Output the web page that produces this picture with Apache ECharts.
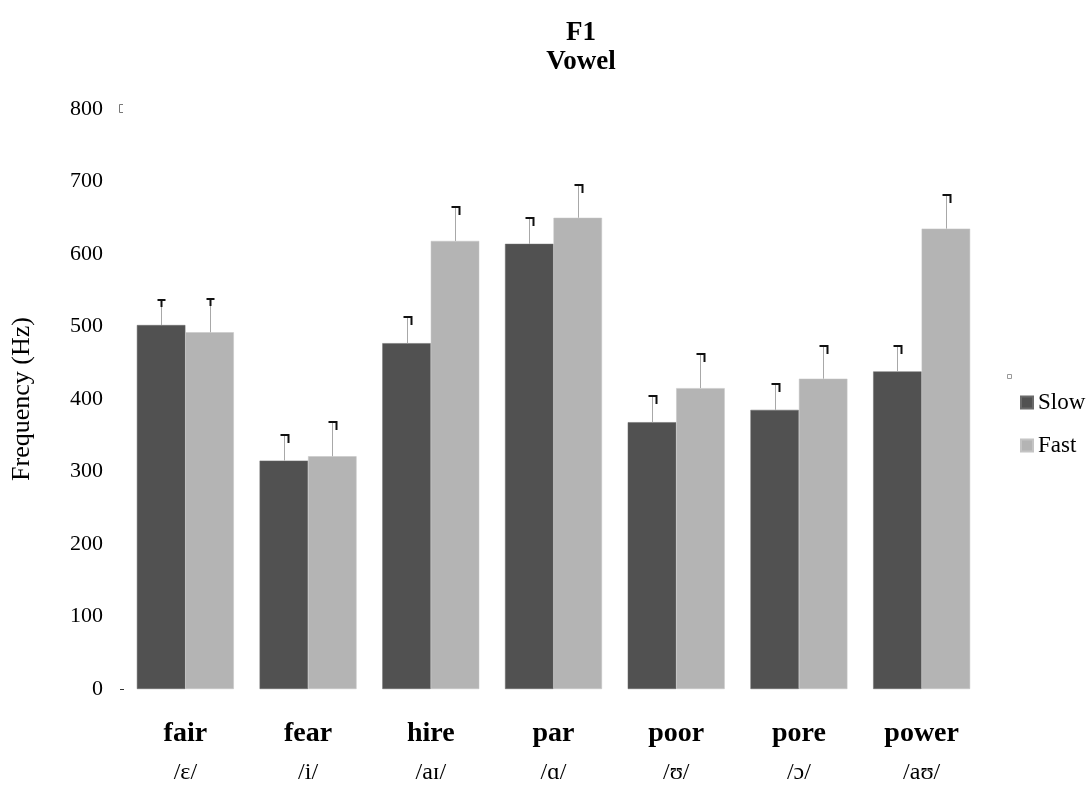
<!DOCTYPE html>
<html>
<head>
<meta charset="utf-8">
<script src="https://cdn.jsdelivr.net/npm/echarts@6/dist/echarts.min.js"></script>
<style>
  html, body { margin: 0; padding: 0; background: #fff; }
  #chart { width: 1087px; height: 787px; }
</style>
</head>
<body>
<div id="chart"></div>
<script>
// F1 of each vowel, slow vs fast speech rate
const words = ['fair', 'fear', 'hire', 'par', 'poor', 'pore', 'power'];
const vowels = ['/ɛ/', '/i/', '/aɪ/', '/ɑ/', '/ʊ/', '/ɔ/', '/aʊ/'];
const slowF1 = [502, 315, 477, 614, 368, 385, 438];
const slowErr = [36, 37, 37, 37, 37, 37, 37];
const fastF1 = [492, 321, 618, 650, 415, 428, 635];
const fastErr = [48, 48, 48, 46, 48, 47, 48];
const yTicks = [0, 800];

const SERIF = '"Liberation Serif", "DejaVu Serif", serif';
const SLOW_COLOR = '#515151';
const FAST_COLOR = '#b4b4b4';
const CAT_GAP = 0.21;

// Upper error whisker: thin grey stem with a black cap
function errorRenderer(values, errs, side) {
  return function (params, api) {
    const i = api.value(0);
    const v = values[i];
    const e = errs[i];
    const base = api.coord([i, v]);
    const top = api.coord([i, v + e]);
    const band = api.size([1, 0])[0];
    const bw = band * (1 - CAT_GAP) / 2;
    const cx = Math.round(base[0] + side * bw / 2) + 0.5;
    const yTop = Math.round(top[1]);
    const children = [{
      type: 'line',
      shape: { x1: cx, y1: base[1], x2: cx, y2: yTop },
      style: { stroke: '#a8a8a8', lineWidth: 1 }
    }];
    if (i === 0) {
      // T-shaped cap
      children.push({
        type: 'line',
        shape: { x1: cx - 4, y1: yTop + 1, x2: cx + 4, y2: yTop + 1 },
        style: { stroke: '#111', lineWidth: 2 }
      });
      children.push({
        type: 'line',
        shape: { x1: cx, y1: yTop + 1, x2: cx, y2: yTop + 8 },
        style: { stroke: '#111', lineWidth: 2 }
      });
    } else {
      children.push({
        type: 'polyline',
        shape: { points: [[cx - 4, yTop + 1], [cx + 4, yTop + 1], [cx + 4, yTop + 9]] },
        style: { stroke: '#111', lineWidth: 2, fill: null }
      });
    }
    return { type: 'group', children: children };
  };
}

// Small marks left of the value axis at the ends of the range
function endMarkRenderer(params, api) {
  const v = api.value(0);
  const p = api.coord([0, v]);
  const x0 = params.coordSys.x;
  const y = Math.round(p[1]);
  if (v === 0) {
    return {
      type: 'line',
      shape: { x1: x0 - 4, y1: y + 0.5, x2: x0, y2: y + 0.5 },
      style: { stroke: '#333', lineWidth: 1 }
    };
  }
  return {
    type: 'polyline',
    shape: { points: [[x0 - 1, y - 4.5], [x0 - 4.5, y - 4.5], [x0 - 4.5, y + 3.5], [x0 - 1, y + 3.5]] },
    style: { stroke: '#777', lineWidth: 1, fill: null }
  };
}

const chart = echarts.init(document.getElementById('chart'), null, { renderer: 'canvas' });

chart.setOption({
  animation: false,
  backgroundColor: '#fff',
  title: {
    text: 'F1\nVowel',
    left: 576,
    textAlign: 'center',
    top: 14,
    textStyle: {
      fontFamily: SERIF,
      fontWeight: 'bold',
      fontSize: 27,
      lineHeight: 29,
      color: '#000'
    }
  },
  legend: {
    orient: 'vertical',
    left: 1015,
    top: 386,
    itemWidth: 12,
    itemHeight: 12,
    itemGap: 20,
    icon: 'rect',
    data: ['Slow', 'Fast'],
    textStyle: { fontFamily: SERIF, fontSize: 23, color: '#000' }
  },
  graphic: [{
    type: 'rect',
    left: 1007,
    top: 374,
    shape: { width: 4, height: 4 },
    style: { fill: '#fff', stroke: '#999', lineWidth: 1 }
  }],
  grid: { left: 124, right: 104, top: 109, bottom: 98, outerBoundsMode: 'none' },
  xAxis: {
    type: 'category',
    data: words,
    axisLine: { show: false },
    axisTick: { show: false },
    axisLabel: {
      margin: 26,
      interval: 0,
      formatter: function (val, idx) {
        return '{w|' + val + '}\n{v|' + vowels[idx] + '}';
      },
      rich: {
        w: { fontFamily: SERIF, fontWeight: 'bold', fontSize: 28, lineHeight: 38, color: '#000' },
        v: { fontFamily: SERIF, fontSize: 24, lineHeight: 40, color: '#000' }
      }
    }
  },
  yAxis: {
    type: 'value',
    min: 0,
    max: 800,
    interval: 100,
    name: 'Frequency (Hz)',
    nameLocation: 'middle',
    nameRotate: 90,
    nameGap: 89,
    nameTextStyle: { fontFamily: SERIF, fontSize: 26, color: '#000' },
    axisLine: { show: false },
    axisTick: { show: false },
    splitLine: { show: false },
    axisLabel: { fontFamily: SERIF, fontSize: 22, color: '#000', margin: 21 }
  },
  series: [
    {
      name: 'Slow',
      type: 'bar',
      data: slowF1,
      barGap: '0%',
      barCategoryGap: (CAT_GAP * 100) + '%',
      itemStyle: { color: SLOW_COLOR, borderColor: '#6a6a6a', borderWidth: 0.5 }
    },
    {
      name: 'Fast',
      type: 'bar',
      data: fastF1,
      barGap: '0%',
      barCategoryGap: (CAT_GAP * 100) + '%',
      itemStyle: { color: FAST_COLOR, borderColor: '#c4c4c4', borderWidth: 0.5 }
    },
    {
      type: 'custom',
      renderItem: errorRenderer(slowF1, slowErr, -1),
      data: words.map(function (w, i) { return [i, slowF1[i] + slowErr[i]]; }),
      encode: { x: 0, y: 1 },
      z: 5,
      silent: true
    },
    {
      type: 'custom',
      renderItem: errorRenderer(fastF1, fastErr, 1),
      data: words.map(function (w, i) { return [i, fastF1[i] + fastErr[i]]; }),
      encode: { x: 0, y: 1 },
      z: 5,
      silent: true
    },
    {
      type: 'custom',
      renderItem: endMarkRenderer,
      data: yTicks.map(function (t) { return [t]; }),
      encode: { y: 0 },
      z: 5,
      silent: true
    }
  ]
});
</script>
</body>
</html>
